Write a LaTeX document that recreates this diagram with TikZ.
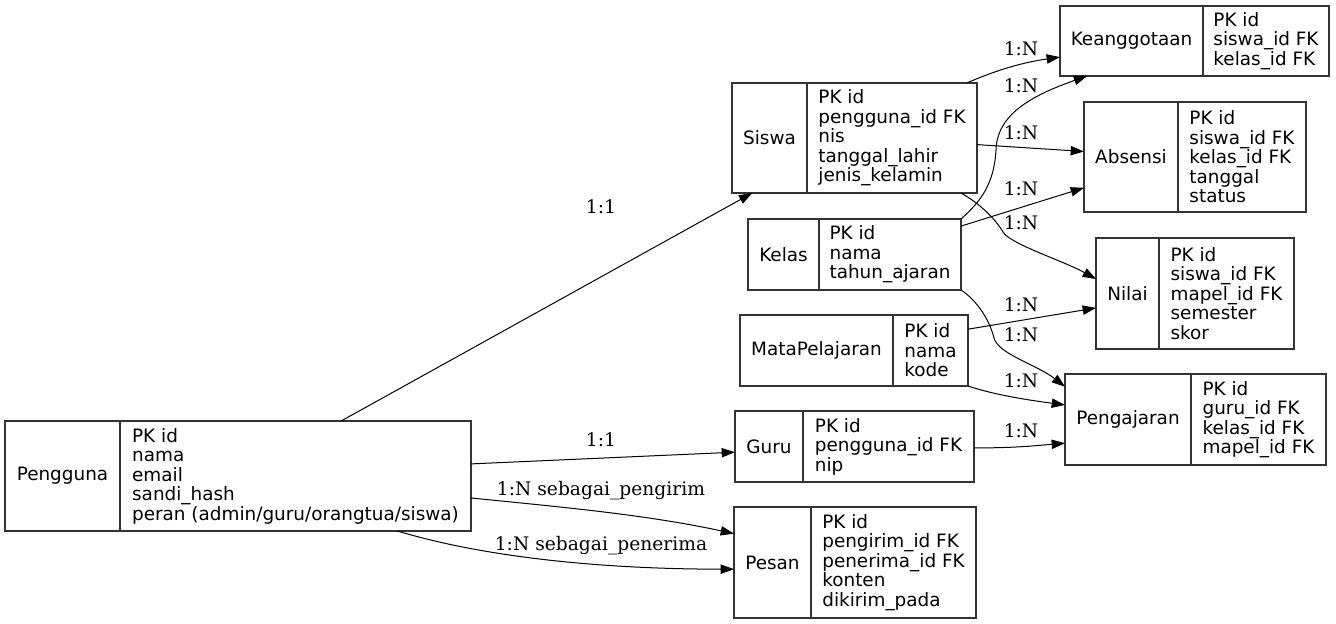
\documentclass[tikz,border=0pt]{standalone}
\usepackage{fontspec}
\setmainfont{DejaVu Serif}
\setsansfont{DejaVu Sans}
\usetikzlibrary{arrows.meta,calc}

\begin{document}
\begin{tikzpicture}[x=0.75pt,y=-0.75pt,>={Triangle[length=10pt,width=7pt]},
    tbl/.style={draw=black!80, line width=1pt, anchor=north west, inner sep=0pt, outer sep=0pt, font=\sffamily\fontsize{13.8}{14.6}\selectfont},
    fld/.style={tbl, align=left},
    sz/.style 2 args={minimum width=#1*0.75pt, minimum height=#2*0.75pt},
    rel/.style={->, line width=0.75pt},
    lbl/.style={font=\fontsize{14}{16}\selectfont, text height=1.5ex, text depth=.25ex, inner sep=0pt}]
        \useasboundingbox (0,0) rectangle (1336,624);
        % tables
        \node[tbl, sz={115}{110}] (pengguna) at (5,421) {Pengguna};
        \node[fld, sz={351}{110}] (penggunaF) at (pengguna.north east) {PK id\\nama\\email\\sandi\_hash\\peran (admin/guru/orangtua/siswa)};
        \node[tbl, sz={75}{110}] (siswa) at (732,83) {Siswa};
        \node[fld, sz={170}{110}] (siswaF) at (siswa.north east) {PK id\\pengguna\_id FK\\nis\\tanggal\_lahir\\jenis\_kelamin};
        \node[tbl, sz={71}{71}] (kelas) at (748,219) {Kelas};
        \node[fld, sz={142}{71}] (kelasF) at (kelas.north east) {PK id\\nama\\tahun\_ajaran};
        \node[tbl, sz={153}{71}] (mapel) at (740,315) {MataPelajaran};
        \node[fld, sz={75}{71}] (mapelF) at (mapel.north east) {PK id\\nama\\kode};
        \node[tbl, sz={68}{71}] (guru) at (735,411) {Guru};
        \node[fld, sz={171}{71}] (guruF) at (guru.north east) {PK id\\pengguna\_id FK\\nip};
        \node[tbl, sz={77}{111}] (pesan) at (734,507) {Pesan};
        \node[fld, sz={165}{111}] (pesanF) at (pesan.north east) {PK id\\pengirim\_id FK\\penerima\_id FK\\konten\\dikirim\_pada};
        \node[tbl, sz={143}{70}] (anggota) at (1060,6) {Keanggotaan};
        \node[fld, sz={126}{70}] (anggotaF) at (anggota.north east) {PK id\\siswa\_id FK\\kelas\_id FK};
        \node[tbl, sz={94}{110}] (absensi) at (1084,102) {Absensi};
        \node[fld, sz={128}{110}] (absensiF) at (absensi.north east) {PK id\\siswa\_id FK\\kelas\_id FK\\tanggal\\status};
        \node[tbl, sz={63}{111}] (nilai) at (1096,238) {Nilai};
        \node[fld, sz={135}{111}] (nilaiF) at (nilai.north east) {PK id\\siswa\_id FK\\mapel\_id FK\\semester\\skor};
        \node[tbl, sz={126}{91}] (ajar) at (1065,374) {Pengajaran};
        \node[fld, sz={135}{91}] (ajarF) at (ajar.north east) {PK id\\guru\_id FK\\kelas\_id FK\\mapel\_id FK};
        % relations from Pengguna
        \draw[rel] ($(penggunaF.north west)!0.63!(penggunaF.north east)$) -- ($(siswa.south west)!0.27!(siswa.south east)$) node[lbl] (r1) at (601,209) {1:1};
        \draw[rel] ($(penggunaF.north east)!0.39!(penggunaF.south east)$) -- ($(guru.north west)!0.58!(guru.south west)$) node[lbl] (r2) at (601,442) {1:1};
        \draw[rel] ($(penggunaF.north east)!0.70!(penggunaF.south east)$) .. controls +(90,9) and +(-88,-19) .. ($(pesan.north west)!0.24!(pesan.south west)$) node[lbl] (r3) at (601,491) {1:N sebagai\_pengirim};
        \draw[rel] ($(penggunaF.south west)!0.79!(penggunaF.south east)$) .. controls +(100,30) and +(-110,0) .. ($(pesan.north west)!0.56!(pesan.south west)$) node[lbl] (r4) at (601,546) {1:N sebagai\_penerima};
        % relations on the right
        \draw[rel] ($(siswaF.north west)!0.94!(siswaF.north east)$) .. controls +(32,-14) and +(-35,5) .. ($(anggota.north west)!0.73!(anggota.south west)$) node[lbl] (r5) at (1021,51) {1:N};
        \draw[rel] (kelasF.north east) .. controls +(19,-17) and +(-2,35) .. (996,150) .. controls +(1,-35) and +(-57,20) .. ($(anggota.south west)!0.19!(anggota.south east)$) node[lbl] (r6) at (1021,88) {1:N};
        \draw[rel] ($(siswaF.north east)!0.56!(siswaF.south east)$) -- ($(absensi.north west)!0.45!(absensi.south west)$) node[lbl] (r7) at (1021,135) {1:N};
        \draw[rel] ($(kelasF.north east)!0.1!(kelasF.south east)$) -- ($(absensi.north west)!0.78!(absensi.south west)$) node[lbl] (r8) at (1021,191) {1:N};
        \draw[rel] ($(siswaF.south west)!0.905!(siswaF.south east)$) .. controls +(20,11) and +(-7,-12) .. (1003,232) .. controls +(7,12) and +(-32,-18) .. ($(nilai.north west)!0.37!(nilai.south west)$) node[lbl] (r9) at (1021,225) {1:N};
        \draw[rel] ($(mapelF.north east)!0.2!(mapelF.south east)$) -- ($(nilai.north west)!0.63!(nilai.south west)$) node[lbl] (r10) at (1021,307) {1:N};
        \draw[rel] (kelasF.south east) .. controls +(18,12) and +(-4,-16) .. (994,338) .. controls +(4,16) and +(-28,-22) .. ($(ajar.north west)!0.14!(ajar.south west)$) node[lbl] (r11) at (1021,337) {1:N};
        \draw[rel] (mapelF.south east) .. controls +(30,10) and +(-30,-4) .. ($(ajar.north west)!0.34!(ajar.south west)$) node[lbl] (r12) at (1021,383) {1:N};
        \draw[rel] ($(guruF.north east)!0.52!(guruF.south east)$) .. controls +(40,0) and +(-35,3) .. ($(ajar.north west)!0.76!(ajar.south west)$) node[lbl] (r13) at (1021,433) {1:N};
    \end{tikzpicture}
\end{document}
